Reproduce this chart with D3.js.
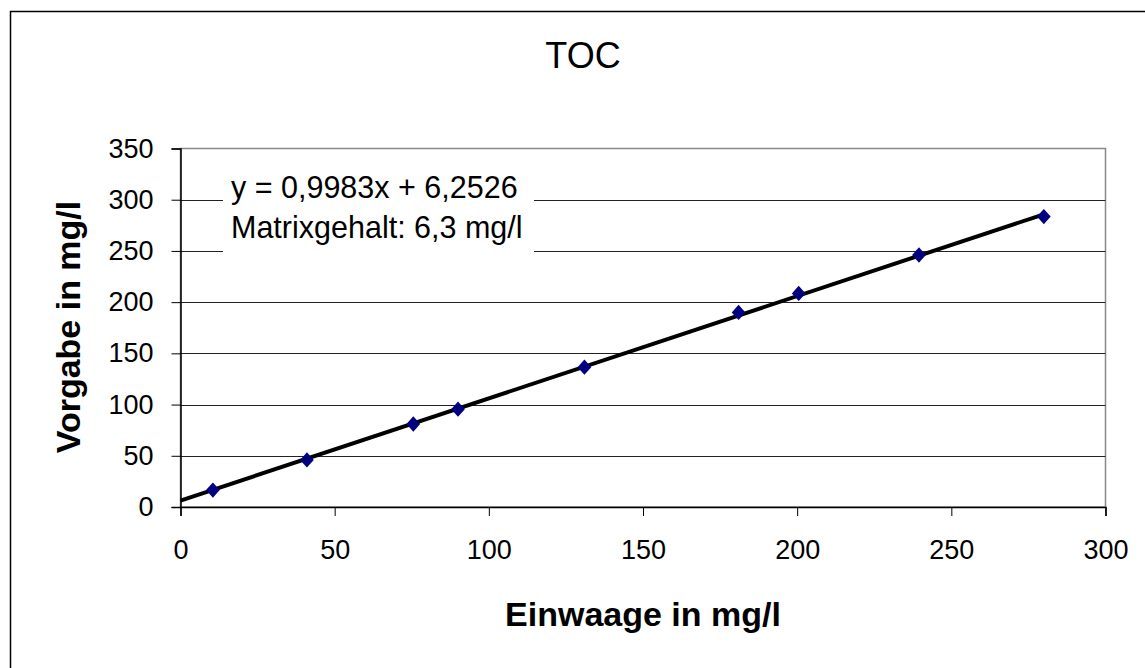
<!DOCTYPE html>
<html><head><meta charset="utf-8">
<script src="https://cdn.jsdelivr.net/npm/d3@7"></script>
<style>html,body{margin:0;padding:0;background:#fff;}svg{display:block;}</style>
</head><body>
<svg id="chart" width="1145" height="668"></svg>
<script>
const einwaage = [10.5, 41, 75.5, 90, 131, 181, 200.5, 239.5, 280];
const vorgabe  = [16.5, 46, 81, 95.5, 136.5, 190, 208.5, 246, 283.5];
const xTicks = [0, 50, 100, 150, 200, 250, 300];
const yTicks = [0, 50, 100, 150, 200, 250, 300, 350];
const slope = 0.9983, intercept = 6.2526;
const trendRange = [0, 280];
const title = "TOC";
const xTitle = "Einwaage in mg/l";
const yTitle = "Vorgabe in mg/l";
const eqLines = ["y = 0,9983x + 6,2526", "Matrixgehalt: 6,3 mg/l"];

const svg = d3.select("#chart");
const font = "Liberation Sans, Arial, sans-serif";
const L = 180.5, R = 1105.5, T = 148.5, B = 507;
const x = d3.scaleLinear().domain([0, 300]).range([L, R]);
const y = d3.scaleLinear().domain([0, 350]).range([B, T]);

svg.append("rect").attr("x", 10.5).attr("y", 11.5).attr("width", 1200).attr("height", 1200)
  .attr("fill", "#fff").attr("stroke", "#000").attr("stroke-width", 1.5);

// plot area border
svg.append("rect").attr("x", L).attr("y", T).attr("width", R - L).attr("height", B - T)
  .attr("fill", "none").attr("stroke", "#888").attr("stroke-width", 1.5);

// gridlines
svg.append("g").selectAll("line").data(yTicks.filter(d => d > 0 && d < 350)).join("line")
  .attr("x1", L).attr("x2", R).attr("y1", d => Math.round(y(d)) + 0.5).attr("y2", d => Math.round(y(d)) + 0.5)
  .attr("stroke", "#222").attr("stroke-width", 1);

// axes
const xAxis = d3.axisBottom(x).tickValues(xTicks).tickSize(9).tickPadding(24);
const gx = svg.append("g").attr("transform", `translate(0,${B})`).call(xAxis);
gx.select(".domain").attr("stroke", "#000").attr("stroke-width", 1.5);
gx.selectAll(".tick line").attr("stroke", "#000");
gx.selectAll("text").attr("font-family", font).attr("font-size", 27).attr("fill", "#000");

const yAxis = d3.axisLeft(y).tickValues(yTicks).tickSize(9).tickPadding(18);
const gy = svg.append("g").attr("transform", `translate(${L},0)`).call(yAxis);
gy.select(".domain").attr("stroke", "#000").attr("stroke-width", 1.5);
gy.selectAll(".tick line").attr("stroke", "#000");
gy.selectAll("text").attr("font-family", font).attr("font-size", 27).attr("fill", "#000");

// equation box
const box = svg.append("g");
box.append("rect").attr("x", 223).attr("y", 166).attr("width", 311).attr("height", 88).attr("fill", "#fff");
box.selectAll("text").data(eqLines).join("text")
  .attr("x", 231).attr("y", (d, i) => 198 + i * 40)
  .attr("font-family", font).attr("font-size", 30.5).attr("fill", "#000").text(d => d);

// trendline
svg.append("line")
  .attr("x1", x(trendRange[0])).attr("y1", y(slope * trendRange[0] + intercept))
  .attr("x2", x(trendRange[1])).attr("y2", y(slope * trendRange[1] + intercept))
  .attr("stroke", "#000").attr("stroke-width", 4);

// markers
const pts = einwaage.map((v, i) => [v, vorgabe[i]]);
svg.append("g").selectAll("path").data(pts).join("path")
  .attr("transform", d => `translate(${x(d[0])},${y(d[1])}) scale(1,1.12)`)
  .attr("d", d3.symbol(d3.symbolDiamond2, 120)())
  .attr("fill", "#000080");

// titles
svg.append("text").attr("x", 583).attr("y", 68).attr("text-anchor", "middle")
  .attr("font-family", font).attr("font-size", 36).text(title);
svg.append("text").attr("x", 643).attr("y", 626).attr("text-anchor", "middle")
  .attr("font-family", font).attr("font-size", 34).attr("font-weight", "bold").text(xTitle);
svg.append("text").attr("transform", `translate(80,327) rotate(-90)`).attr("text-anchor", "middle")
  .attr("font-family", font).attr("font-size", 34).attr("font-weight", "bold").text(yTitle);
</script>
</body></html>
